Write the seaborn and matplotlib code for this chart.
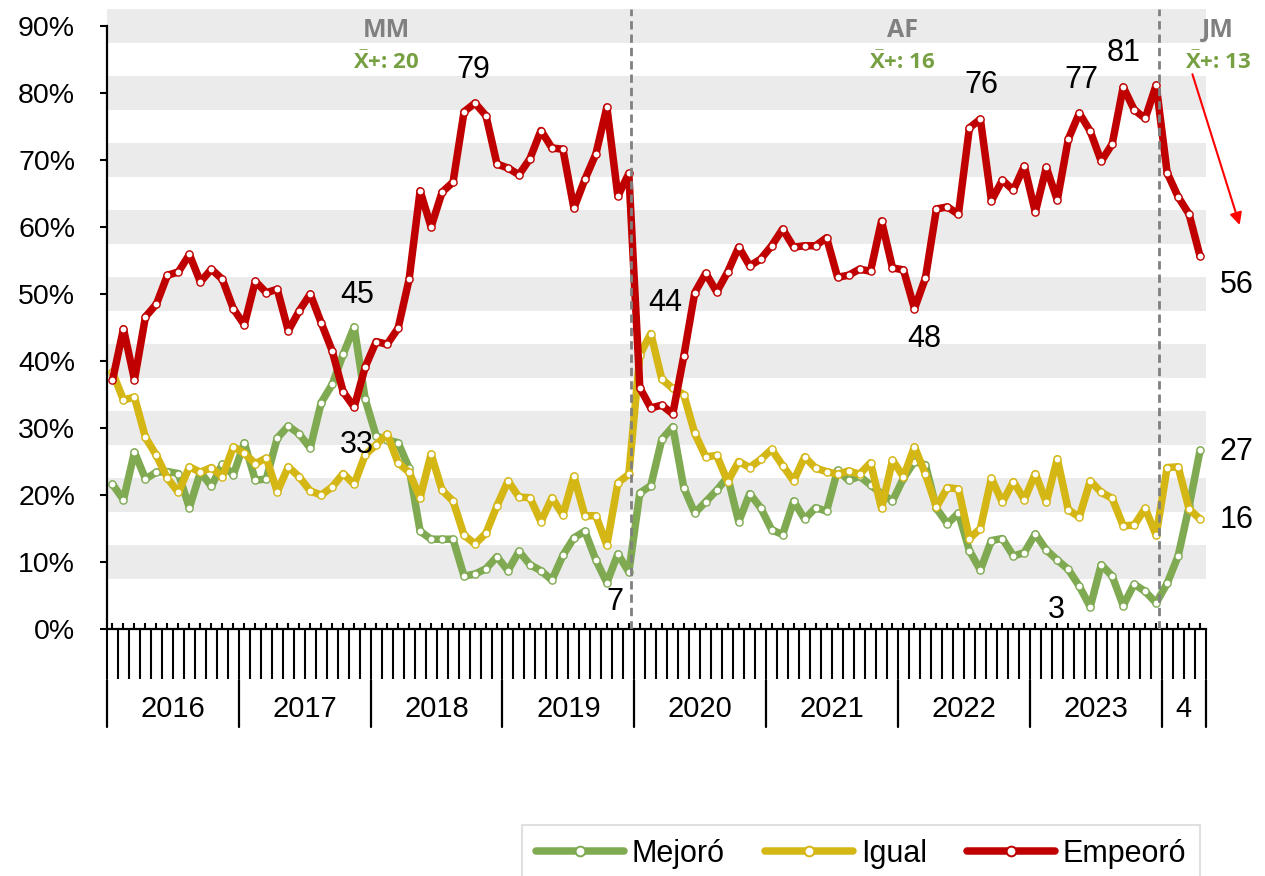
import numpy as np
import pandas as pd
import matplotlib
matplotlib.use("Agg")
import matplotlib.pyplot as plt
import matplotlib.transforms as mtrans
from matplotlib.lines import Line2D
from matplotlib.ticker import FuncFormatter
import seaborn as sns

# ---------------- data ----------------
years = ["2016", "2017", "2018", "2019", "2020", "2021", "2022", "2023", "4"]
months_per_year = [12, 12, 12, 12, 12, 12, 12, 12, 4]
series_names = ["Mejoró", "Igual", "Empeoró"]

mejoro = [
    21.6, 19.3, 26.4, 22.4, 23.4, 23.5, 23.2, 18.1, 23.4, 21.3, 24.6, 23.0,
    27.8, 22.2, 22.4, 28.5, 30.3, 29.1, 27.0, 33.8, 36.5, 41.0, 45.1, 34.3,
    28.8, 28.2, 27.8, 24.0, 14.6, 13.4, 13.4, 13.4, 7.9, 8.2, 9.0, 10.8,
    8.7, 11.6, 9.6, 8.7, 7.3, 11.0, 13.6, 14.6, 10.3, 6.9, 11.2, 8.5,
    20.3, 21.4, 28.3, 30.2, 21.1, 17.3, 19.0, 20.7, 22.7, 16.0, 20.2, 18.1,
    14.8, 14.1, 19.1, 16.4, 18.1, 17.6, 23.7, 22.2, 22.8, 21.5, 20.2, 19.1,
    22.5, 25.0, 24.5, 18.0, 15.7, 17.3, 11.7, 8.8, 13.2, 13.5, 10.9, 11.4,
    14.2, 11.8, 10.3, 8.9, 6.4, 3.3, 9.6, 7.9, 3.5, 6.7, 5.6, 3.9,
    6.8, 10.9, 18.3, 26.7,
]
igual = [
    38.3, 34.2, 34.6, 28.6, 25.9, 22.5, 20.4, 24.2, 23.4, 24.1, 22.7, 27.2,
    26.2, 24.7, 25.5, 20.5, 24.2, 22.7, 20.6, 20.0, 21.2, 23.2, 21.6, 26.0,
    27.5, 29.1, 24.8, 23.4, 19.6, 26.1, 20.7, 19.1, 14.0, 12.7, 14.3, 18.4,
    22.1, 19.7, 19.6, 16.0, 19.6, 17.0, 22.8, 16.9, 16.9, 12.5, 21.8, 23.1,
    40.9, 44.1, 37.3, 35.9, 35.0, 29.2, 25.7, 25.9, 22.0, 25.0, 24.1, 25.3,
    26.8, 24.4, 22.1, 25.7, 24.0, 23.5, 23.1, 23.6, 23.1, 24.8, 18.0, 25.2,
    22.7, 27.2, 23.1, 18.2, 21.1, 20.9, 13.5, 15.0, 22.5, 18.9, 22.0, 19.3,
    23.2, 18.9, 25.4, 17.8, 16.7, 22.1, 20.4, 19.5, 15.4, 15.5, 18.0, 14.0,
    24.1, 24.2, 17.9, 16.4,
]
empeoro = [
    37.1, 44.8, 37.2, 46.6, 48.5, 52.8, 53.3, 55.9, 51.8, 53.7, 52.2, 47.8,
    45.4, 51.9, 50.2, 50.7, 44.5, 47.5, 50.0, 45.7, 41.5, 35.4, 33.1, 39.1,
    42.9, 42.5, 44.9, 52.2, 65.4, 60.0, 65.2, 66.7, 77.2, 78.5, 76.6, 69.4,
    68.8, 67.8, 70.2, 74.4, 71.8, 71.6, 62.8, 67.1, 70.9, 77.9, 64.6, 68.0,
    36.0, 33.0, 33.4, 32.1, 40.7, 50.2, 53.1, 50.3, 53.3, 57.0, 54.2, 55.2,
    57.2, 59.7, 57.0, 57.2, 57.2, 58.4, 52.5, 52.8, 53.7, 53.4, 60.9, 53.9,
    53.6, 47.8, 52.4, 62.7, 63.0, 61.9, 74.8, 76.1, 63.9, 67.0, 65.5, 69.1,
    62.2, 68.9, 64.0, 73.1, 77.0, 74.3, 69.8, 72.4, 80.9, 77.5, 76.2, 81.2,
    68.1, 64.5, 61.9, 55.6,
]

period_names = ["MM", "AF", "JM"]
period_means = [r"$\bar{\mathrm{X}}$+: 20", r"$\bar{\mathrm{X}}$+: 16",
                r"$\bar{\mathrm{X}}$+: 13"]

# ---------------- style ----------------
colors = ["#7FAA52", "#D4B614", "#C00000"]
sns.set_style("white")
plt.rcParams["font.family"] = ["Liberation Sans", "DejaVu Sans"]
plt.rcParams["text.color"] = "black"
plt.rcParams["xtick.color"] = "black"
plt.rcParams["ytick.color"] = "black"
plt.rcParams["mathtext.fontset"] = "custom"
plt.rcParams["mathtext.rm"] = "Open Sans:bold"
plt.rcParams["mathtext.it"] = "Open Sans:bold"
plt.rcParams["mathtext.bf"] = "Open Sans:bold"

W, H = 1265, 876
fig = plt.figure(figsize=(W / 100, H / 100), dpi=100)
ax_left, ax_right, ax_bottom, ax_top = 107, 1205.6, 629, 9.25
ax = fig.add_axes([ax_left / W, 1 - ax_bottom / H, (ax_right - ax_left) / W,
                   (ax_bottom - ax_top) / H])

n = len(empeoro)
idx = np.arange(n)
df = pd.DataFrame({
    "mes": np.tile(idx, 3),
    "valor": mejoro + igual + empeoro,
    "serie": np.repeat(series_names, n),
})

# background bands
for v in range(10, 100, 10):
    ax.axhspan(v - 2.5, v + 2.5, color="#EBEBEB", lw=0, zorder=0)

LW = 5.4
for k, (name, col) in enumerate(zip(series_names, colors)):
    sub = df[df["serie"] == name]
    sns.lineplot(data=sub, x="mes", y="valor", ax=ax, color=col, lw=LW,
                 marker="o", markersize=5.2, markerfacecolor="white",
                 markeredgecolor=col, markeredgewidth=1.0,
                 solid_joinstyle="round", solid_capstyle="round",
                 legend=False, zorder=2 + k)

ax.set_xlim(-0.5, n - 0.5)
ax.set_ylim(0, 92.5)
ax.set_xlabel("")
ax.set_ylabel("")

# spines
for s in ["top", "right"]:
    ax.spines[s].set_visible(False)
ax.spines["left"].set_bounds(0, 90)
for s in ["left", "bottom"]:
    ax.spines[s].set_linewidth(1.6)
    ax.spines[s].set_color("black")

# y ticks
ax.set_yticks(range(0, 100, 10))
ax.yaxis.set_major_formatter(FuncFormatter(lambda v, p: f"{v:.0f}%"))
ax.tick_params(axis="y", length=5, width=1.5, labelsize=20.5, pad=18,
               left=True, color="black", labelcolor="black")

# x ticks: long at month boundaries, short at month centres
ax.set_xticks(np.arange(-0.5, n, 1.0))
ax.set_xticklabels([])
ax.set_xticks(idx, minor=True)
ax.tick_params(axis="x", which="major", length=36, width=1.5,
               direction="out", bottom=True, color="black")
ax.tick_params(axis="x", which="minor", length=4, width=1.5,
               direction="in", bottom=True, color="black")

# year separators and labels
trans = mtrans.blended_transform_factory(ax.transData, ax.transAxes)
h_ax = ax_bottom - ax_top
y_sep0 = -(680 - ax_bottom) / h_ax
y_sep1 = -(727 - ax_bottom) / h_ax
y_lab = -(709 - ax_bottom) / h_ax
bounds = np.concatenate([[0], np.cumsum(months_per_year)]) - 0.5
for b in bounds:
    ax.plot([b, b], [y_sep0, y_sep1], transform=trans, color="black",
            lw=1.6, clip_on=False)
for yname, b0, b1 in zip(years, bounds[:-1], bounds[1:]):
    ax.text((b0 + b1) / 2, y_lab, yname, transform=trans, ha="center",
            va="center", fontsize=21)

# period dividers
for xv in [47.2, 95.3]:
    ax.axvline(xv, color="#808080", lw=2.0, ls=(0, (3, 1.8)), zorder=8)

# period headers
hdr_x = [24.9, 71.9, 100.6]
for name, mean, xh in zip(period_names, period_means, hdr_x):
    ax.text(xh, 89.3, name, ha="center", va="center", fontsize=18,
            fontweight="bold", color="#808080",
            family=["Open Sans", "DejaVu Sans"], zorder=9)
    ax.text(xh, 84.5, mean, ha="center", va="center", fontsize=16,
            fontweight="bold", color="#77A043",
            family=["Open Sans", "DejaVu Sans"], zorder=9)

# data labels
labels = [
    ("45", 22.25, 49.9), ("33", 22.25, 27.5), ("79", 32.8, 83.4),
    ("7", 45.7, 4.0), ("44", 50.3, 48.7), ("48", 73.9, 43.3),
    ("76", 79.1, 81.2), ("77", 88.2, 81.9), ("81", 92.0, 86.0),
    ("3", 85.9, 2.8), ("56", 102.3, 51.3), ("27", 102.3, 26.4),
    ("16", 102.3, 16.3),
]
for t, xv, yv in labels:
    ax.text(xv, yv, t, ha="center", va="center", fontsize=22, zorder=9)

# red arrow
ax.annotate("", xy=(102.6, 60.3), xytext=(98.3, 82.8),
            arrowprops=dict(arrowstyle="-|>", color="#FF0000", lw=1.5,
                            mutation_scale=18, shrinkA=0, shrinkB=0),
            annotation_clip=False, zorder=9)

# legend
handles = [Line2D([0], [0], color=c, lw=LW, marker="o", markersize=7,
                  markerfacecolor="white", markeredgecolor=c,
                  markeredgewidth=1.4, solid_capstyle="round")
           for c in colors]
leg = fig.legend(handles, series_names, loc="upper left",
                 bbox_to_anchor=(522 / W, 1 - 825 / H), ncol=3,
                 frameon=True, fancybox=False, edgecolor="#D9D9D9",
                 fontsize=22, handlelength=2.9, columnspacing=1.3,
                 handletextpad=0.25, borderpad=0.45, borderaxespad=0,
                 labelcolor="black")
leg.get_frame().set_linewidth(1.5)

fig.savefig("out.png", dpi=100)
